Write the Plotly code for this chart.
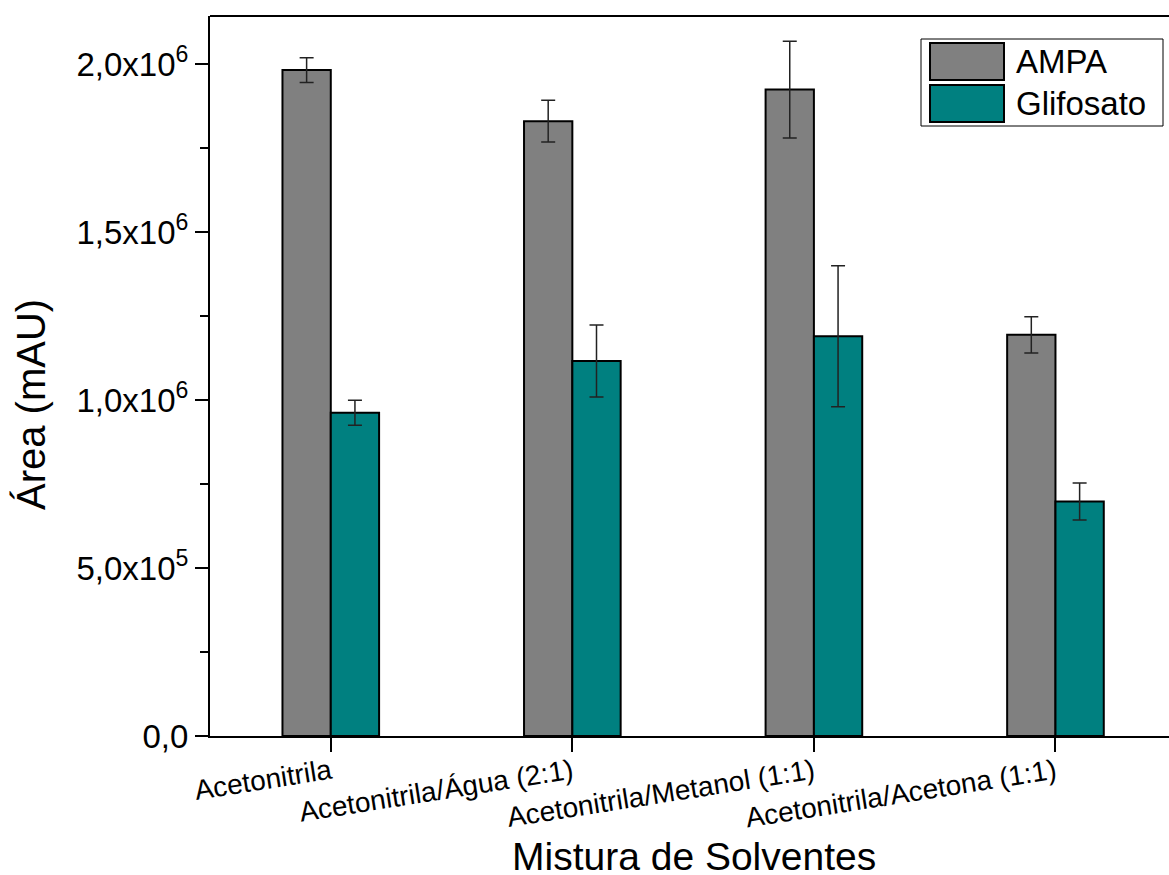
import plotly.graph_objects as go

categories = ["Acetonitrila", "Acetonitrila/Água (2:1)", "Acetonitrila/Metanol (1:1)", "Acetonitrila/Acetona (1:1)"]
ampa = [1.982e6, 1.830e6, 1.924e6, 1.194e6]
ampa_err = [0.037e6, 0.062e6, 0.144e6, 0.054e6]
glif = [0.962e6, 1.116e6, 1.190e6, 0.698e6]
glif_err = [0.037e6, 0.107e6, 0.210e6, 0.055e6]
series_names = ["AMPA", "Glifosato"]
series_colors = ["#808080", "#008080"]
ytick_vals = [0, 0.5e6, 1.0e6, 1.5e6, 2.0e6]
ytick_text = ["0,0", "5,0x10<sup>5</sup>", "1,0x10<sup>6</sup>", "1,5x10<sup>6</sup>", "2,0x10<sup>6</sup>"]

FONT = "Liberation Sans, Arial, sans-serif"
W, H = 1169, 875
L, R, T, B = 210, 0, 16, 139
pw, ph = W - L - R, H - T - B

def px(x):
    return (x - L) / pw

def py(y):
    return (H - B - y) / ph

fig = go.Figure()
for name, vals, errs, col in [(series_names[0], ampa, ampa_err, series_colors[0]),
                              (series_names[1], glif, glif_err, series_colors[1])]:
    fig.add_trace(go.Bar(
        x=categories, y=vals, name=name,
        marker=dict(color=col, line=dict(color="black", width=2)),
        error_y=dict(type="data", array=errs, visible=True, color="#222222", thickness=1.5, width=7),
        showlegend=False,
    ))

fig.update_layout(
    width=W, height=H,
    margin=dict(l=L, r=R, t=T, b=B),
    paper_bgcolor="white", plot_bgcolor="white",
    barmode="group", bargap=0.6, bargroupgap=0,
    font=dict(family=FONT, color="black"),
    xaxis=dict(
        range=[-0.5, 3.47], showline=True, linecolor="black", linewidth=2, mirror=False,
        ticks="outside", ticklen=14, tickwidth=1.5, tickcolor="black",
        tickangle=-9, tickfont=dict(size=28, family=FONT, color="black"),
        ticklabelstandoff=-7,
        showgrid=False, zeroline=False,
    ),
    yaxis=dict(
        range=[0, 2.143e6], showline=True, linecolor="black", linewidth=2, mirror=False,
        ticks="outside", ticklen=13, tickwidth=1.5, tickcolor="black",
        tickvals=ytick_vals, ticktext=ytick_text,
        tickfont=dict(size=33, family=FONT, color="black"),
        minor=dict(ticks="outside", ticklen=8, tickwidth=1.5, tickcolor="black", dtick=250000, tick0=0),
        showgrid=False, zeroline=False,
    ),
)

# top frame line
fig.add_shape(type="line", xref="paper", yref="paper", x0=0, x1=1.01, y0=1, y1=1,
              line=dict(color="black", width=2))

# axis titles
fig.add_annotation(text="Área (mAU)", xref="paper", yref="paper", x=px(31), y=py(405),
                   textangle=-90, showarrow=False, font=dict(size=40, family=FONT, color="black"),
                   xanchor="center", yanchor="middle")
fig.add_annotation(text="Mistura de Solventes", xref="paper", yref="paper", x=px(694), y=py(856),
                   showarrow=False, font=dict(size=39, family=FONT, color="black"),
                   xanchor="center", yanchor="middle")

# legend box
fig.add_shape(type="rect", xref="paper", yref="paper", x0=px(921), x1=px(1163), y0=py(39), y1=py(126),
              line=dict(color="black", width=1), fillcolor="white")
for i, (name, col) in enumerate(zip(series_names, series_colors)):
    y0, y1 = (43, 80) if i == 0 else (85, 122)
    fig.add_shape(type="rect", xref="paper", yref="paper", x0=px(930), x1=px(1004), y0=py(y0), y1=py(y1),
                  line=dict(color="black", width=2), fillcolor=col)
    fig.add_annotation(text=name, xref="paper", yref="paper", x=px(1014), y=py((y0 + y1) / 2),
                       showarrow=False, xanchor="left", yanchor="middle",
                       font=dict(size=33, family=FONT, color="black"))

fig.write_html("out.html")
